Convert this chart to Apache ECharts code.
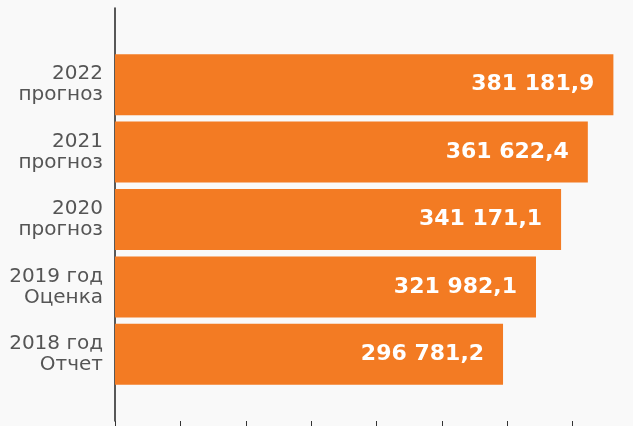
<!DOCTYPE html>
<html>
<head>
<meta charset="utf-8">
<script src="https://cdn.jsdelivr.net/npm/echarts@6/dist/echarts.min.js"></script>
<style>
  html, body { margin: 0; padding: 0; background: #f9f9f9; }
  #chart { width: 633px; height: 426px; }
</style>
</head>
<body>
<div id="chart"></div>
<script>
// категории снизу вверх
const categories = ['2018 год\nОтчет', '2019 год\nОценка', '2020\nпрогноз', '2021\nпрогноз', '2022\nпрогноз']
const values = [296781.2, 321982.1, 341171.1, 361622.4, 381181.9]
const axisMax = 400000
const tickStep = 50000

// 381181.9 -> "381 181,9"
function fmt(v) {
  const parts = v.toFixed(1).split('.')
  const int = parts[0].replace(/\B(?=(\d{3})+(?!\d))/g, ' ')
  return int + ',' + parts[1]
}

const chart = echarts.init(document.getElementById('chart'))

const option = {
  backgroundColor: '#f9f9f9',
  animation: false,
  grid: [
    // bars
    { left: 115, width: 523, top: 51, bottom: 38, outerBoundsMode: 'none' },
    // full-height axis line + bottom ticks
    { left: 115, width: 523, top: 8, bottom: 5, outerBoundsMode: 'none' }
  ],
  xAxis: [
    {
      gridIndex: 0,
      type: 'value',
      min: 0,
      max: axisMax,
      interval: tickStep,
      show: false
    },
    {
      gridIndex: 1,
      type: 'value',
      min: 0,
      max: axisMax,
      interval: tickStep,
      axisLine: { show: false },
      axisTick: { show: true, length: 6, lineStyle: { color: '#333', width: 1 } },
      axisLabel: { show: false },
      splitLine: { show: false }
    }
  ],
  yAxis: [
    {
      gridIndex: 0,
      type: 'category',
      data: categories,
      axisLine: { show: false },
      axisTick: { show: false },
      axisLabel: {
        margin: 12,
        color: '#555',
        fontFamily: 'DejaVu Sans',
        fontSize: 20,
        lineHeight: 21,
        align: 'right'
      }
    },
    {
      gridIndex: 1,
      type: 'value',
      axisLine: { show: true, lineStyle: { color: '#222', width: 1.5 } },
      axisTick: { show: false },
      axisLabel: { show: false },
      splitLine: { show: false }
    }
  ],
  series: [{
    type: 'bar',
    xAxisIndex: 0,
    yAxisIndex: 0,
    data: values,
    barWidth: 61,
    itemStyle: { color: '#f37b23' },
    label: {
      show: true,
      position: 'insideRight',
      distance: 19,
      color: '#fff',
      fontFamily: 'DejaVu Sans',
      fontWeight: 'bold',
      fontSize: 22,
      formatter: p => fmt(p.value)
    }
  }]
}

chart.setOption(option)
</script>
</body>
</html>
